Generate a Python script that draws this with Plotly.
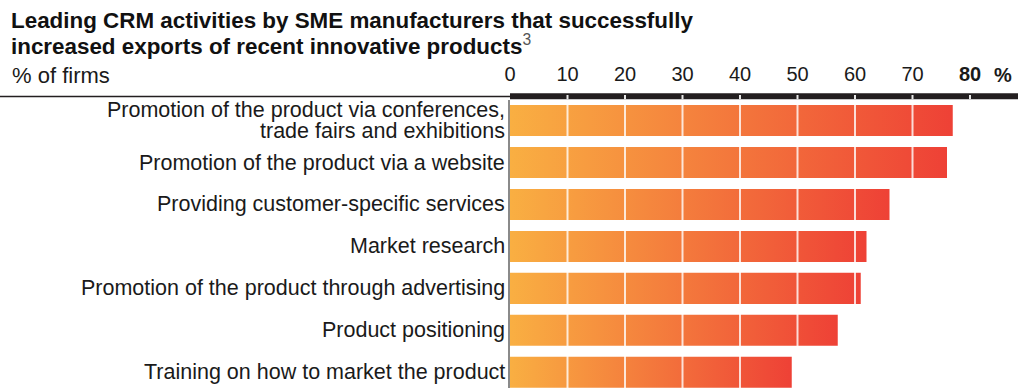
import plotly.graph_objects as go

# CRM activities, share of firms (%)
activities = [
    "Promotion of the product via conferences,<br>trade fairs and exhibitions",
    "Promotion of the product via a website",
    "Providing customer-specific services",
    "Market research",
    "Promotion of the product through advertising",
    "Product positioning",
    "Training on how to market the product",
]
shares = [77, 76, 66, 62, 61, 57, 49]

tick_values = [0, 10, 20, 30, 40, 50, 60, 70, 80]
tick_labels = ["0", "10", "20", "30", "40", "50", "60", "70", "<b>80</b>"]

title_lines = [
    "<b>Leading CRM activities by SME manufacturers that successfully</b>",
    "<b>increased exports of recent innovative products</b>"
    "<sup><span style='color:#555555'>3</span></sup>",
]

W, H = 1018, 388
ML, MT = 510, 100
PLOT_W, PLOT_H = W - ML, H - MT
PX_PER_ROW = 41.95
BAR_HALF = 0.37
GRAD = [[0, "#F9AF42"], [1, "#EE4136"]]
FONT = "Liberation Sans, Arial, sans-serif"
TEXT = "#1A1A1A"


def px_x(px):
    """Horizontal pixel position -> paper coordinate."""
    return (px - ML) / PLOT_W


def px_y(px):
    """Vertical pixel position (from top) -> paper coordinate."""
    return 1 + (MT - px) / PLOT_H


fig = go.Figure()

# each bar is a filled polygon so the fill can run from amber to red along its own length
for i, v in enumerate(shares):
    fig.add_trace(go.Scatter(
        x=[0, v, v, 0, 0],
        y=[i - BAR_HALF, i - BAR_HALF, i + BAR_HALF, i + BAR_HALF, i - BAR_HALF],
        mode="lines",
        line=dict(width=0),
        fill="toself",
        fillgradient=dict(type="horizontal", colorscale=GRAD, start=0, stop=v),
        hoverinfo="skip",
        showlegend=False,
    ))

shapes = []
# white grid lines drawn over the bars
for t in tick_values[1:-1]:
    shapes.append(dict(type="line", xref="x", yref="y domain", x0=t, x1=t, y0=0, y1=1,
                       line=dict(color="rgba(255,255,255,0.8)", width=2), layer="above"))

# thick black axis band along the top
band_lo = 1 + 0.7 / PLOT_H
band_hi = 1 + 6.7 / PLOT_H
shapes.append(dict(type="rect", xref="x domain", yref="y domain", x0=0, x1=1,
                   y0=band_lo, y1=band_hi, fillcolor="#231F20", line=dict(width=0), layer="above"))
# thin rule under the header on the left
rule_y = 1 + 3.5 / PLOT_H
shapes.append(dict(type="line", xref="paper", yref="y domain", x0=px_x(0), x1=0,
                   y0=rule_y, y1=rule_y, line=dict(color="#231F20", width=1.5), layer="above"))
# small notches marking the ticks on the band
for t in tick_values[1:]:
    shapes.append(dict(type="line", xref="x", yref="y domain", x0=t, x1=t,
                       y0=band_lo, y1=1 + 5.0 / PLOT_H,
                       line=dict(color="#E8E8E8", width=2), layer="above"))

annotations = []
# two-line bold heading, set line by line for tight leading
for k, line in enumerate(title_lines):
    annotations.append(dict(
        text=line, xref="paper", yref="paper", x=px_x(9), y=px_y(20 + 25 * k),
        xanchor="left", yanchor="middle", align="left", showarrow=False,
        font=dict(size=22.4, color="#111111"),
    ))

annotations += [
    dict(text="% of firms", xref="paper", yref="paper",
         x=px_x(10), y=px_y(75), xanchor="left", yanchor="middle",
         showarrow=False, font=dict(size=22, color=TEXT)),
    dict(text="<b>%</b>", xref="paper", yref="paper",
         x=px_x(1003), y=px_y(75), xanchor="center", yanchor="middle",
         showarrow=False, font=dict(size=20, color=TEXT)),
]

# category labels, right-aligned against the axis; wrapped labels are set line by line
LINE_STEP = 21 / PX_PER_ROW
for i, label in enumerate(activities):
    lines = label.split("<br>")
    n = len(lines)
    for k, line in enumerate(lines):
        annotations.append(dict(
            text=line, xref="paper", yref="y",
            x=px_x(507), y=i + (k - (n - 1) / 2) * LINE_STEP,
            xanchor="right", yanchor="middle", showarrow=False,
            font=dict(size=21.5, color=TEXT),
        ))

fig.update_layout(
    width=W, height=H,
    margin=dict(l=ML, r=0, t=MT, b=0, pad=0),
    paper_bgcolor="white", plot_bgcolor="white",
    font=dict(family=FONT, color=TEXT, size=20),
    xaxis=dict(
        side="top", range=[0, PLOT_W / 5.75],
        tickvals=tick_values, ticktext=tick_labels,
        showgrid=False, zeroline=False, showline=False, ticks="",
        tickfont=dict(size=20, color=TEXT),
        ticklabelstandoff=14,
        fixedrange=True,
    ),
    yaxis=dict(
        range=[-0.49 + PLOT_H / PX_PER_ROW, -0.49],
        tickvals=list(range(len(activities))), showticklabels=False,
        showgrid=False, zeroline=False,
        showline=True, linecolor="#8A8A8A", linewidth=2,
        ticks="",
        fixedrange=True,
    ),
    shapes=shapes,
    annotations=annotations,
)

fig.write_html("out.html")
